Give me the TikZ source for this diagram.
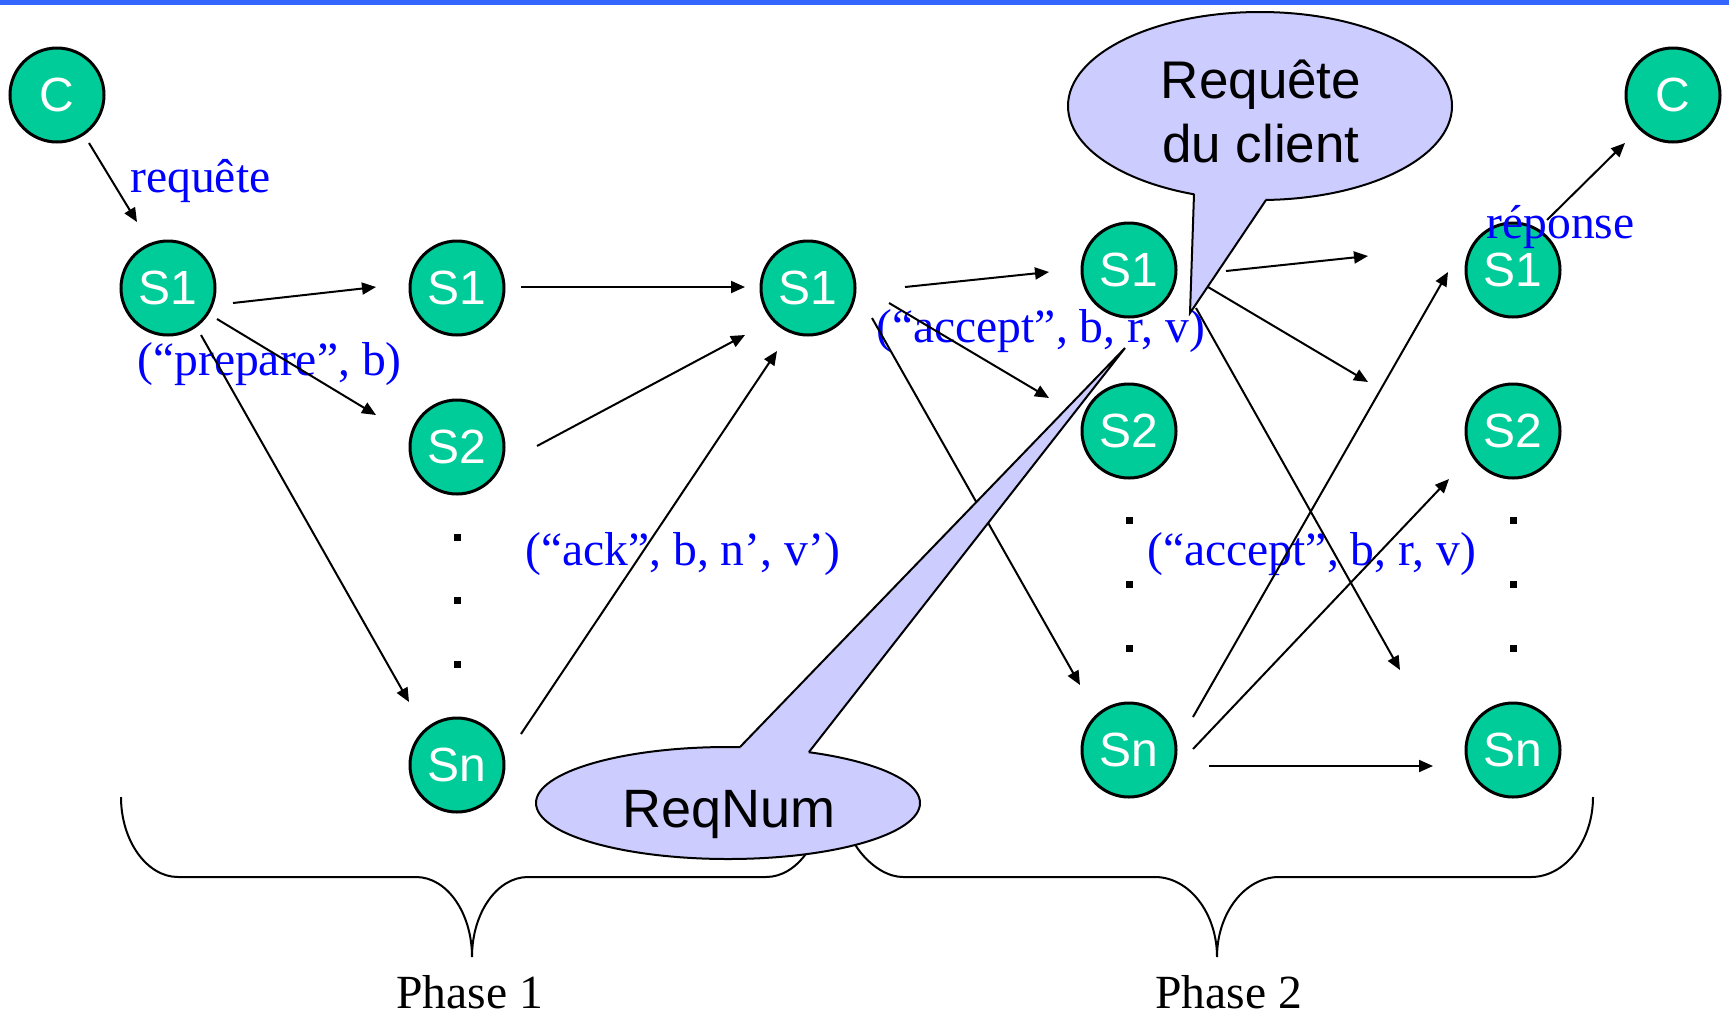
\documentclass[tikz,border=0pt]{standalone}
\usepackage{fontspec}
\setmainfont{Liberation Serif}
\setsansfont{Liberation Sans}
\usetikzlibrary{arrows.meta,calc,shapes.geometric}
\definecolor{nodegreen}{HTML}{00CC99}
\definecolor{callfill}{HTML}{CCCCFF}
\definecolor{barblue}{HTML}{3366FF}
\definecolor{lblblue}{HTML}{0000FF}
\begin{document}
\begin{tikzpicture}[x=0.5pt,y=-0.5pt,
  srv/.style={circle,draw=black,line width=1.5pt,fill=nodegreen,minimum size=47pt,inner sep=0pt,text=white,font=\sffamily\fontsize{24}{28}\selectfont},
  msg/.style={-{Triangle[length=7pt,width=6pt]},line width=1pt},
  lbl/.style={anchor=base west,inner sep=0pt,text=lblblue,font=\fontsize{23.8}{28}\selectfont},
  phase/.style={anchor=base west,inner sep=0pt,font=\fontsize{23.8}{28}\selectfont},
  bracepath/.style={line width=1pt},
  dotmark/.style={rectangle,fill=black,minimum size=3.5pt,inner sep=0pt},
  callellipse/.style={ellipse,fill=callfill,draw=black,line width=1pt,inner sep=0pt},
  calltext/.style={anchor=base,inner sep=0pt,font=\sffamily\fontsize{26.5}{30}\selectfont}
]
\useasboundingbox (0,0) rectangle (1729,1018);
% top bar
\fill[barblue] (0,0) rectangle (1729,5);

% braces
\draw[bracepath] (121,797) .. controls (121,841) and (147,877) .. (178,877) -- (416,877)
  .. controls (447,877) and (472,913) .. (472,957)
  .. controls (472,913) and (497,877) .. (528,877) -- (766,877)
  .. controls (797,877) and (823,841) .. (823,797);
\draw[bracepath] (841,797) .. controls (841,841) and (875,877) .. (903,877) -- (1155,877)
  .. controls (1189,877) and (1217,913) .. (1217,957)
  .. controls (1217,913) and (1245,877) .. (1279,877) -- (1531,877)
  .. controls (1565,877) and (1593,841) .. (1593,797);

% nodes
\node[srv] (Cl) at (57,95) {C};
\node[srv] (A1) at (168,288) {S1};
\node[srv] (B1) at (457,288) {S1};
\node[srv] (B2) at (457,447) {S2};
\node[srv] (Bn) at (457,765) {Sn};
\node[srv] (D1) at (808,288) {S1};
\node[srv] (E1) at (1129,270) {S1};
\node[srv] (E2) at (1129,431) {S2};
\node[srv] (En) at (1129,750) {Sn};
\node[srv] (F1) at (1513,270) {S1};
\node[srv] (F2) at (1513,431) {S2};
\node[srv] (Fn) at (1513,750) {Sn};
\node[srv] (Cr) at (1673,95) {C};

% dots
\node[dotmark] (d21) at (457,537) {};
\node[dotmark] (d22) at (457,600) {};
\node[dotmark] (d23) at (457,664) {};
\node[dotmark] (d41) at (1129,520) {};
\node[dotmark] (d42) at (1129,584) {};
\node[dotmark] (d43) at (1129,648) {};
\node[dotmark] (d51) at (1513,520) {};
\node[dotmark] (d52) at (1513,584) {};
\node[dotmark] (d53) at (1513,648) {};

% labels
\node[lbl] (lreq) at (130,192) {requête};
\node[lbl] (lprep) at (137,375) {(“prepare”, b)};
\node[lbl] (lack) at (525,565) {(“ack”, b, n’, v’)};
\node[lbl] (lacc1) at (876,342) {(“accept”, b, r, v)};
\node[lbl] (lacc2) at (1147,565) {(“accept”, b, r, v)};
\node[lbl] (lrep) at (1486,238) {réponse};
\node[phase] (ph1) at (396,1008) {Phase 1};
\node[phase] (ph2) at (1155,1008) {Phase 2};

% free ends
\coordinate (c1) at (1368,256);
\coordinate (c2) at (1368,382);
\coordinate (c3) at (1400,670);

% connectors
\draw[msg] ($(Cl)+(32,48)$) -- ($(A1)+(-31,-66)$);
\draw[msg] ($(A1)+(65,15)$) -- ($(B1)+(-81,-1)$);
\draw[msg] ($(A1)+(49,31)$) -- ($(B2)+(-81,-32)$);
\draw[msg] ($(A1)+(33,47)$) -- ($(Bn)+(-48,-63)$);
\draw[msg] ($(B1)+(64,-1)$) -- ($(D1)+(-63,-1)$);
\draw[msg] ($(B2)+(80,-1)$) -- ($(D1)+(-63,47)$);
\draw[msg] ($(Bn)+(64,-31)$) -- ($(D1)+(-31,63)$);
\draw[msg] ($(D1)+(97,-1)$) -- ($(E1)+(-80,2)$);
\draw[msg] ($(D1)+(81,15)$) -- ($(E2)+(-80,-33)$);
\draw[msg] ($(D1)+(64,30)$) -- ($(En)+(-49,-65)$);
\draw[msg] ($(E1)+(97,1)$) -- (c1);
\draw[msg] ($(E1)+(79,17)$) -- (c2);
\draw[msg] ($(E1)+(67,38)$) -- (c3);
\draw[msg] ($(En)+(64,-33)$) -- ($(F1)+(-65,2)$);
\draw[msg] ($(En)+(64,-1)$) -- ($(F2)+(-64,48)$);
\draw[msg] ($(En)+(80,16)$) -- ($(Fn)+(-80,16)$);
\draw[msg] ($(F1)+(34,-50)$) -- ($(Cr)+(-48,48)$);

% callout: Requête du client
\node[callellipse,minimum width=192pt,minimum height=94pt] (reqc) at (1260,106) {};
\fill[callfill] (1194,194) -- (1190,313) -- (1266,200) -- (1235,160) -- cycle;
\draw[line width=1pt,line join=miter] (1194,194) -- (1190,313) -- (1266,200);
\node[calltext] (reqt1) at (1261,98) {Requête};
\node[calltext] (reqt2) at (1261,162) {du client};

% callout: ReqNum
\node[callellipse,minimum width=192pt,minimum height=56pt] (rqn) at (728,803) {};
\fill[callfill] (740,747) -- (1125,348) -- (809,752) -- (775,790) -- cycle;
\draw[line width=1pt,line join=miter] (740,747) -- (1125,348) -- (809,752);
\node[calltext,font=\sffamily\fontsize{27}{30}\selectfont] (rqnt) at (729,827) {ReqNum};
\end{tikzpicture}
\end{document}
